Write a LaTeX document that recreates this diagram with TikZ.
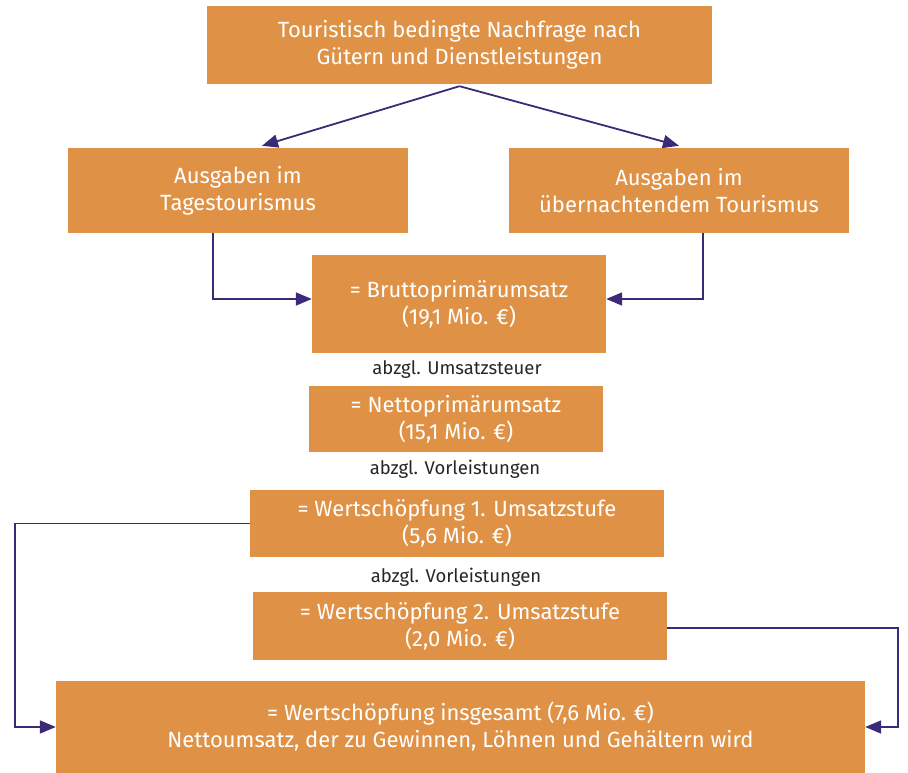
\documentclass[tikz,border=0pt]{standalone}
\usepackage{fontspec}
\setmainfont{Fira Sans}
\usetikzlibrary{positioning, calc, arrows.meta}
\definecolor{kasten}{HTML}{DF9246}
\definecolor{pfeil}{HTML}{3C2A78}
\tikzset{
  kasten/.style={fill=kasten, text=white, align=center, inner sep=0pt,
    font=\fontsize{22}{27}\selectfont},
  abzug/.style={text=black!85, font=\fontsize{18.5}{22}\selectfont, inner sep=0pt},
  pfeil/.style={draw=pfeil, line width=1.8pt,
    -{Triangle[length=16pt,width=13pt]}}
}
\begin{document}
\begin{tikzpicture}[x=1pt,y=-1pt]
  \useasboundingbox (0,0) rectangle (908,773);
  % Kaesten
  \node[kasten, minimum width=505pt, minimum height=78pt] (nachfrage) at (459.5,45)
    {Touristisch bedingte Nachfrage nach\\Gütern und Dienstleistungen};
  \node[kasten, minimum width=340pt, minimum height=85pt] (tages) at (238,190.5)
    {Ausgaben im\\Tagestourismus};
  \node[kasten, minimum width=340pt, minimum height=85pt] (uebern) at (679,190.5)
    {Ausgaben im\\übernachtendem Tourismus};
  \node[kasten, minimum width=294pt, minimum height=98pt] (brutto) at (459,304)
    {= Bruttoprimärumsatz\\(19,1 Mio. €)};
  \node[abzug] (ust) at (457,370) {abzgl. Umsatzsteuer};
  \node[kasten, minimum width=294pt, minimum height=66pt] (netto) at (456,419)
    {= Nettoprimärumsatz\\(15,1 Mio. €)};
  \node[abzug] (vl1) at (455,469) {abzgl. Vorleistungen};
  \node[kasten, minimum width=414pt, minimum height=67pt] (ws1) at (457,523.5)
    {= Wertschöpfung 1. Umsatzstufe\\(5,6 Mio. €)};
  \node[abzug] (vl2) at (456,577) {abzgl. Vorleistungen};
  \node[kasten, minimum width=414pt, minimum height=68pt] (ws2) at (460,626)
    {= Wertschöpfung 2. Umsatzstufe\\(2,0 Mio. €)};
  \node[kasten, minimum width=809pt, minimum height=92pt] (gesamt) at (460.5,727)
    {= Wertschöpfung insgesamt (7,6 Mio. €)\\Nettoumsatz, der zu Gewinnen, Löhnen und Gehältern wird};
  % Pfeile
  \draw[pfeil] ([yshift=-2pt]nachfrage.south) -- ([xshift=24pt,yshift=2pt]tages.north);
  \draw[pfeil] ([yshift=-2pt]nachfrage.south) -- ([yshift=2pt]uebern.north);
  \draw[pfeil] ([xshift=-25pt]tages.south) |- ([yshift=5pt]brutto.west);
  \draw[pfeil] ([xshift=24pt]uebern.south) |- ([yshift=5pt]brutto.east);
  \draw[pfeil] (ws1.west) -- ++(-235,0) |- (gesamt.west);
  \draw[pfeil] ([yshift=-2pt]ws2.east) -- ++(231,0) |- (gesamt.east);
\end{tikzpicture}
\end{document}
